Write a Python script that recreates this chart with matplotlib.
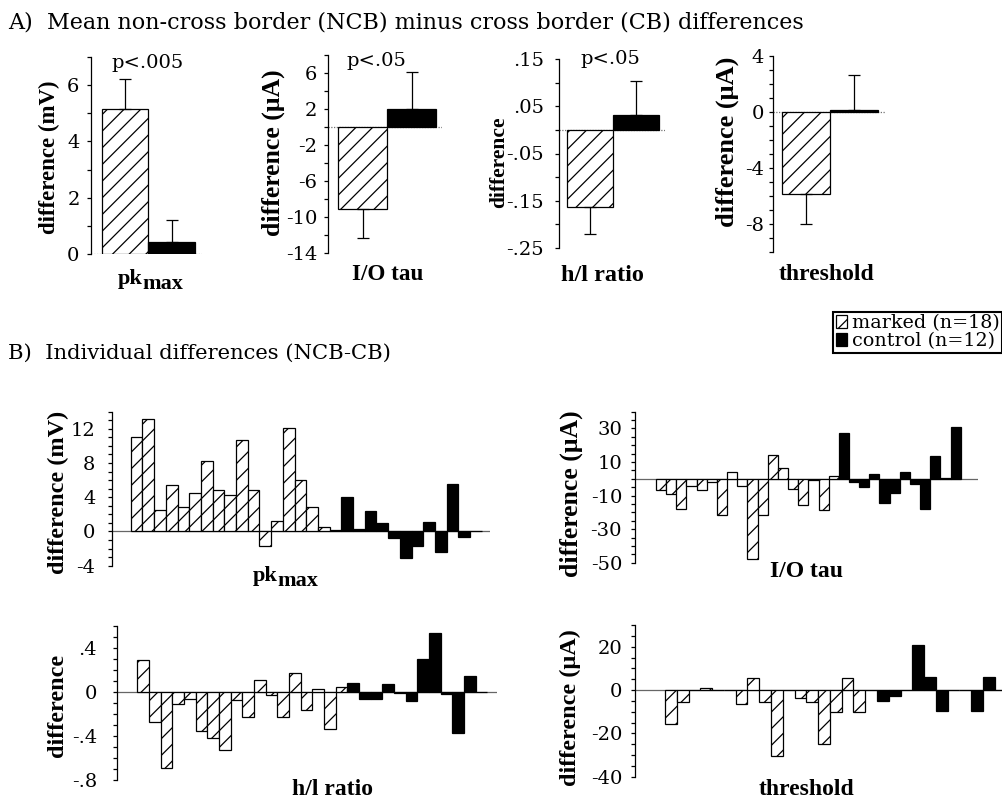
import matplotlib
matplotlib.use("Agg")
import matplotlib.pyplot as plt
from matplotlib.patches import Patch
import numpy as np

W, H = 1003, 801

plt.rcParams['font.family'] = ['DejaVu Serif']
plt.rcParams['axes.unicode_minus'] = False
plt.rcParams['hatch.linewidth'] = 0.9

# ---- panel A: mean NCB - CB differences (marked vs control) ----
mean_marked = [5.17, -9.1, -0.163, -5.85]
sem_marked = [1.04, 3.2, 0.058, 2.15]
mean_control = [0.42, 2.0, 0.032, 0.1]
sem_control = [0.79, 4.1, 0.071, 2.5]
p_values = ["p<.005", "p<.05", "p<.05", ""]

# ---- panel B: individual differences ----
pk_marked = [11.05, 13.1, 2.5, 5.4, 2.9, 4.5, 8.2, 4.8, 4.3, 10.7, 4.9, -1.7,
             1.2, 12.1, 6.0, 2.85, 0.5, 0.15]
pk_control = [4.0, 0.3, 2.4, 1.0, -0.8, -3.1, -1.7, 1.1, -2.4, 5.6, -0.6, 0.0]
io_marked = [-6.6, -9.0, -18.2, -4.3, -6.6, -2.0, -21.5, 3.8, -4.3, -47.5, -21.5,
             14.4, 6.2, -6.0, -15.4, -1.0, -18.8, 1.5]
io_control = [27.3, -1.7, -5.0, 3.1, -14.4, -8.6, 4.3, -2.9, -17.8, 13.6, 0.3, 30.8]
hl_marked = [0.29, -0.27, -0.69, -0.11, -0.06, -0.35, -0.42, -0.53, -0.07, -0.23,
             0.11, -0.03, -0.23, 0.17, -0.16, 0.03, -0.34, 0.05]
hl_control = [0.08, -0.06, -0.06, 0.07, -0.01, -0.08, 0.30, 0.54, -0.02, -0.37, 0.15, 0.0]
thr_marked = [-15.7, -5.7, 0.0, 0.8, 0.0, 0.0, -6.5, 5.4, -5.4, -30.6, 0.0, -3.7,
              -5.4, -25.0, -10.0, 5.4, -10.0, 0.0]
thr_control = [-5.0, -2.6, 0.0, 21.0, 5.9, -9.8, 0.0, 0.0, -9.8, 5.9, 0.0, 0.0]

# axis ticks / labels
a_ylims = [(0, 7), (-14, 8), (-0.25, 0.15), (-10, 4)]
a_ticks = [[0, 2, 4, 6], [6, 2, -2, -6, -10, -14], [0.15, 0.05, -0.05, -0.15, -0.25], [4, 0, -4, -8]]
a_ticklabels = [["0", "2", "4", "6"], ["6", "2", "-2", "-6", "-10", "-14"],
                [".15", ".05", "-.05", "-.15", "-.25"], ["4", "0", "-4", "-8"]]
a_steps = [1, 2, 0.05, 1]
b_ylims = [(-4, 14), (-50, 40), (-0.8, 0.6), (-40, 30)]
b_ticks = [[12, 8, 4, 0, -4], [30, 10, -10, -30, -50], [0.4, 0, -0.4, -0.8], [20, 0, -20, -40]]
b_ticklabels = [["12", "8", "4", "0", "-4"], ["30", "10", "-10", "-30", "-50"],
                [".4", "0", "-.4", "-.8"], ["20", "0", "-20", "-40"]]
b_steps = [1, 5, 0.1, 5]

ylabels = ["difference (mV)", "difference (\u03bcA)", "difference", "difference (\u03bcA)"]
xlabels = ["pk", "I/O tau", "h/l ratio", "threshold"]
legend_labels = ["marked (n=18)", "control (n=12)"]

fig = plt.figure(figsize=(W / 100, H / 100), dpi=100)


def add_axes(box):
    l, r, t, b = box
    return fig.add_axes([l / W, 1 - b / H, (r - l) / W, (b - t) / H])


def to_axes(box, x, y):
    l, r, t, b = box
    return (x - l) / (r - l), (b - y) / (b - t)


def style(ax, xlim, ylim, ticks, labels, step, pad):
    for s in ['top', 'right', 'bottom']:
        ax.spines[s].set_visible(False)
    ax.spines['left'].set_linewidth(0.9)
    ax.patch.set_visible(False)
    ax.set_xlim(xlim)
    ax.set_ylim(ylim)
    ax.set_xticks([])
    ax.set_yticks(ticks, labels=labels)
    ax.set_yticks(np.arange(ylim[0], ylim[1] + step / 2, step), minor=True)
    ax.tick_params(axis='y', which='both', direction='out', length=3, width=0.9,
                   pad=pad, labelsize=14)


def labels(ax, box, i, ylab_xy, ylab_size, xlab_xy, xlab_size):
    ax.set_ylabel(ylabels[i], family='Liberation Serif', weight='bold',
                  fontsize=ylab_size, va='center')
    ax.yaxis.set_label_coords(*to_axes(box, *ylab_xy))
    if i == 0:
        x, y = xlab_xy
        ax.set_xlabel("pk", family='Liberation Serif', weight='bold',
                      fontsize=xlab_size, ha='right', va='baseline')
        ax.xaxis.set_label_coords(*to_axes(box, x - 7.5, y))
        ax.text(*to_axes(box, x - 7.5, y + 5), "max", transform=ax.transAxes,
                family='Liberation Serif', weight='bold', fontsize=xlab_size,
                ha='left', va='baseline')
    else:
        ax.set_xlabel(xlabels[i], family='Liberation Serif', weight='bold',
                      fontsize=xlab_size, ha='center', va='baseline')
        ax.xaxis.set_label_coords(*to_axes(box, *xlab_xy))


# layout (pixel boxes l, r, t, b)
a_boxes = [(90.7, 202, 57, 254), (328.3, 441.7, 55, 253.3),
           (559.3, 665, 59, 248), (773.3, 885, 55.7, 251.7)]
a_xlims = [(-0.736, 1.65), (-0.705, 1.617), (-0.66, 1.62), (-0.674, 1.64)]
a_pads = [5, 5, 8, 3.6]
a_ylab = [((49, 157), 16.5), ((273, 153), 18.5), ((499, 162), 15.5), ((727, 142), 19)]
a_xlab = [((150, 284), 16), ((387.5, 280), 16.7), ((602.5, 281), 17.5), ((826.7, 280), 17)]
a_p_xy = [(148, 68), (376.7, 66), (610, 64)]

for i in range(4):
    box = a_boxes[i]
    ax = add_axes(box)
    vals = [mean_marked[i], mean_control[i]]
    errs = [sem_marked[i], sem_control[i]]
    ax.axhline(0, color='0.45', lw=0.9, ls=(0, (1, 1.2)), zorder=1)
    ax.bar([0], [vals[0]], width=1, facecolor='white', edgecolor='black',
           hatch='//', lw=0.9, zorder=2)
    ax.bar([1], [vals[1]], width=1, color='black', edgecolor='black', lw=0.9, zorder=2)
    for x, v, e in zip([0, 1], vals, errs):
        lower, upper = (0, e) if v >= 0 else (e, 0)
        ax.errorbar(x, v, yerr=[[lower], [upper]], fmt='none', ecolor='black',
                    elinewidth=0.9, capsize=4, capthick=0.9, zorder=3)
    style(ax, a_xlims[i], a_ylims[i], a_ticks[i], a_ticklabels[i], a_steps[i], a_pads[i])
    labels(ax, box, i, a_ylab[i][0], a_ylab[i][1], a_xlab[i][0], a_xlab[i][1])
    if p_values[i]:
        ax.text(*to_axes(box, *a_p_xy[i]), p_values[i], transform=ax.transAxes,
                ha='center', va='baseline', fontsize=14)

b_marked = [pk_marked, io_marked, hl_marked, thr_marked]
b_control = [pk_control, io_control, hl_control, thr_control]
b_boxes = [(111.7, 490, 411.7, 565.7), (635, 978, 411.7, 562.7),
           (117.3, 496.7, 626, 780), (635, 1003, 625, 776.7)]
b_xlims = [(-2.13, 30.2), (-2.57, 31.2), (-2.21, 30.3), (-3.05, 28.2)]
b_pads = [8.6, 6.3, 11.5, 6.3]
b_ylab = [((58, 492), 17.5), ((571.7, 494), 18.5), ((58, 705), 17.5), ((570, 708), 17.5)]
b_xlab = [((285, 581), 16), ((806.7, 577), 17), ((333, 795), 17), ((806.7, 795), 17)]

for i in range(4):
    box = b_boxes[i]
    ax = add_axes(box)
    m, c = b_marked[i], b_control[i]
    ax.axhline(0, color='0.4', lw=0.9, zorder=1)
    ax.bar(np.arange(len(m)), m, width=1, facecolor='white', edgecolor='black',
           hatch='//', lw=0.9, zorder=2)
    ax.bar(np.arange(len(m), len(m) + len(c)), c, width=1, color='black',
           edgecolor='black', lw=0.9, zorder=2)
    style(ax, b_xlims[i], b_ylims[i], b_ticks[i], b_ticklabels[i], b_steps[i], b_pads[i])
    labels(ax, box, i, b_ylab[i][0], b_ylab[i][1], b_xlab[i][0], b_xlab[i][1])

fig.text(8 / W, 1 - 28 / H, "A)  Mean non-cross border (NCB) minus cross border (CB) differences",
         ha='left', va='baseline', fontsize=16)
fig.text(8 / W, 1 - 359 / H, "B)  Individual differences (NCB-CB)",
         ha='left', va='baseline', fontsize=15.2)

handles = [Patch(facecolor='white', edgecolor='black', hatch='//', lw=0.9),
           Patch(facecolor='black', edgecolor='black', lw=0.9)]
leg = fig.legend(handles, legend_labels, loc='upper right',
                 bbox_to_anchor=(1002 / W, 1 - 312 / H), bbox_transform=fig.transFigure,
                 frameon=True, fancybox=False, edgecolor='black', framealpha=1,
                 borderaxespad=0, borderpad=0.12, labelspacing=0.0, handlelength=0.6,
                 handleheight=0.6, handletextpad=0.25, fontsize=13.8)
leg.get_frame().set_linewidth(1.5)

fig.savefig("out.png", dpi=100)
